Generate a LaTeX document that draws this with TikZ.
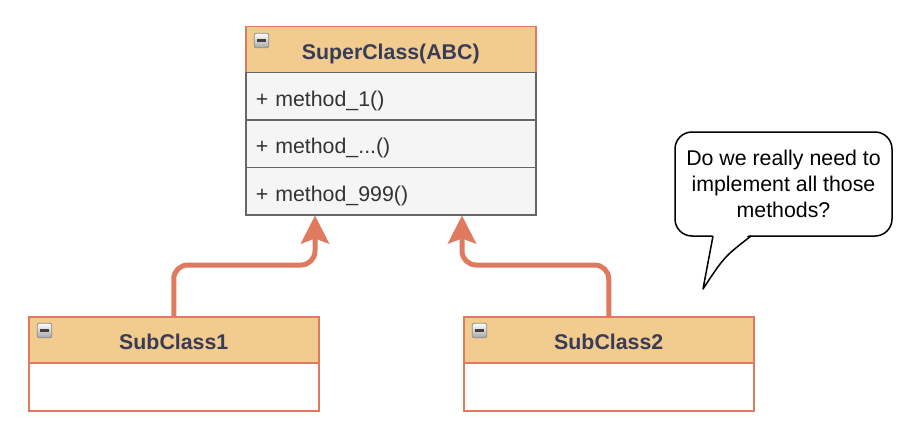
\documentclass[tikz,border=0pt]{standalone}
\usepackage{fontspec}
\setmainfont{Liberation Sans}
\usetikzlibrary{arrows.meta}
\definecolor{hdrfill}{HTML}{F2CC8F}
\definecolor{accent}{HTML}{E07A5F}
\definecolor{hdrtext}{HTML}{393C56}
\definecolor{bodyfill}{HTML}{F5F5F5}
\definecolor{bodyline}{HTML}{666666}
\definecolor{rowtext}{HTML}{333333}
\newdimen\pxu \pxu=0.75pt
\begin{document}
\begin{tikzpicture}[x=0.75pt,y=-0.75pt,
  txt/.style={font=\fontsize{16}{19.5}\selectfont},
  hdr/.style={draw=accent, fill=hdrfill, line width=1.5*\pxu, minimum width=290*\pxu,
    minimum height=46*\pxu, inner sep=0pt, txt, font=\fontsize{16}{19.5}\selectfont\bfseries,
    text=hdrtext, anchor=north west, text height=15pt, text depth=0pt},
  row/.style={draw=bodyline, fill=bodyfill, line width=1.5*\pxu, minimum width=290*\pxu,
    minimum height=47.33*\pxu, text width=270*\pxu, inner xsep=10*\pxu, inner ysep=0pt,
    align=left, txt, text=rowtext, anchor=north west, text height=15pt, text depth=0pt},
  subbody/.style={draw=accent, fill=white, line width=1.5*\pxu, minimum width=290*\pxu,
    minimum height=48*\pxu, inner sep=0pt, anchor=north west},
  icon/.style={draw=black!45, line width=0.8*\pxu, rounded corners=2*\pxu, top color=white,
    bottom color=black!35, minimum size=14.5*\pxu, inner sep=0pt,
    path picture={\draw[line width=2.4*\pxu, black!75]
      ([xshift=3*\pxu]path picture bounding box.west) --
      ([xshift=-3*\pxu]path picture bounding box.east);}},
  inh/.style={draw=accent, line width=5*\pxu, rounded corners=14*\pxu,
    -{Stealth[length=21pt, width=21pt, inset=3.75pt]}},
  bubble/.style={draw=black, fill=white, line width=1.5*\pxu, rounded corners=17*\pxu,
    minimum width=217*\pxu, minimum height=104*\pxu, align=center, txt, text=black}
]
\useasboundingbox (0,0) rectangle (920,435);

% SuperClass
\node[hdr] (sup) at (245,26) {SuperClass(ABC)};
\node[row] (m1) at (245,72) {+ method\_1()};
\node[row] (m2) at (245,119.33) {+ method\_...()};
\node[row] (m3) at (245,166.67) {+ method\_999()};
\node[icon] (supicon) at (261.5,40.5) {};

% SubClass1
\node[hdr] (s1) at (28,316) {SubClass1};
\node[subbody] (s1b) at (28,362) {};
\node[icon] (s1icon) at (44.5,330.5) {};

% SubClass2
\node[hdr] (s2) at (463,316) {SubClass2};
\node[subbody] (s2b) at (463,362) {};
\node[icon] (s2icon) at (479.5,330.5) {};

% inheritance connectors
\coordinate (t1) at ([xshift=70*\pxu]m3.south west);
\coordinate (t2) at ([xshift=217*\pxu]m3.south west);
\draw[inh] (s1.north) -- ++(0,-51) -| (t1);
\draw[inh] (s2.north) -- ++(0,-51) -| (t2);

% speech bubble
\node[bubble] (q) at (783.5,184) {Do we really need to\\implement all those\\methods?};
\coordinate (tip) at (703,289);
\fill[white] (713,233) -- (tip) .. controls (724,257) .. (751,233) -- cycle;
\draw[line width=1.5*\pxu, line join=round] (713,236) -- (tip) .. controls (724,257) .. (751,236);
\end{tikzpicture}
\end{document}
